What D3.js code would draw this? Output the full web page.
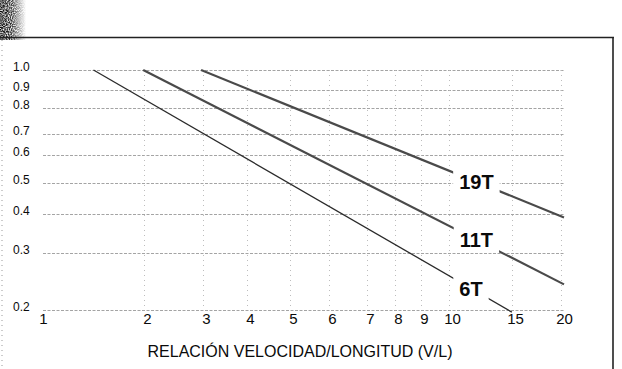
<!DOCTYPE html>
<html>
<head>
<meta charset="utf-8">
<script src="https://cdn.jsdelivr.net/npm/d3@7"></script>
<style>
  html, body { margin: 0; padding: 0; background: #fff; }
  svg { display: block; }
  text { font-family: "Liberation Sans", Arial, Helvetica, sans-serif; fill: #0a0a0a; }
</style>
</head>
<body>
<svg id="chart" width="622" height="369"></svg>
<script>
// Axis ticks (the printed log grid is hand-spaced, so each tick keeps its own place)
const xTicks = [1, 2, 3, 4, 5, 6, 7, 8, 9, 10, 15, 20];
const yTicks = [1.0, 0.9, 0.8, 0.7, 0.6, 0.5, 0.4, 0.3, 0.2];
const xTickPos = [43, 147, 206, 250, 293, 332, 370, 398, 424, 452, 515, 564];
const yTickPos = [70, 90, 108, 134, 155, 183, 214, 253, 310];

// Curves: straight runs on the log grid, from a start point to an end point
const seriesNames = ["6T", "11T", "19T"];
const seriesStart = [[1.4, 1.0], [1.95, 1.0], [2.9, 1.0]];
const seriesEnd = [[14.7, 0.197], [20, 0.24], [20, 0.39]];
const labelAtX = [11.3, 11.7, 11.7];

const axisTitle = "RELACIÓN VELOCIDAD/LONGITUD (V/L)";

const svg = d3.select("#chart");
const W = 622, H = 369;

const x = d3.scaleLog().domain(xTicks).range(xTickPos);
const y = d3.scaleLog().domain(yTicks).range(yTickPos);

// scanned-sheet texture in the upper left corner
const defs = svg.append("defs");
const f = defs.append("filter").attr("id", "grain").attr("x", 0).attr("y", 0).attr("width", 1).attr("height", 1);
f.append("feTurbulence").attr("type", "fractalNoise").attr("baseFrequency", 0.95).attr("numOctaves", 1).attr("seed", 3).attr("result", "n");
f.append("feColorMatrix").attr("in", "n").attr("type", "matrix")
  .attr("values", "0 0 0 0 0  0 0 0 0 0  0 0 0 0 0  0 0 0 -2.2 1.7").attr("result", "d");
f.append("feComposite").attr("in", "d").attr("in2", "SourceGraphic").attr("operator", "in");
const gr = defs.append("linearGradient").attr("id", "fade").attr("x1", 0).attr("x2", 1);
gr.append("stop").attr("offset", 0).attr("stop-color", "#000").attr("stop-opacity", 1);
gr.append("stop").attr("offset", 0.45).attr("stop-color", "#000").attr("stop-opacity", 0.8);
gr.append("stop").attr("offset", 1).attr("stop-color", "#000").attr("stop-opacity", 0);
svg.append("rect").attr("x", 0).attr("y", 0).attr("width", 26).attr("height", 40)
  .attr("fill", "url(#fade)").attr("filter", "url(#grain)");

// frame
svg.append("line").attr("x1", 0).attr("x2", 614).attr("y1", 37.5).attr("y2", 37.5)
  .attr("stroke", "#222").attr("stroke-width", 1.6);
svg.append("line").attr("x1", 613).attr("x2", 613).attr("y1", 37).attr("y2", H)
  .attr("stroke", "#222").attr("stroke-width", 1.6);
svg.append("line").attr("x1", 2).attr("x2", 2).attr("y1", 40).attr("y2", H)
  .attr("stroke", "#999").attr("stroke-width", 1).attr("stroke-dasharray", "1,4");

// grid
const grid = svg.append("g");
grid.selectAll("line.h").data(yTicks).join("line").attr("class", "h")
  .attr("x1", x(xTicks[0])).attr("x2", x(xTicks[xTicks.length - 1]) + 1)
  .attr("y1", d => y(d) + 0.5).attr("y2", d => y(d) + 0.5)
  .attr("stroke", "#9a9a9a").attr("stroke-width", 0.9).attr("stroke-dasharray", "3,1.5");
grid.selectAll("line.v").data(xTicks.slice(1)).join("line").attr("class", "v")
  .attr("x1", d => x(d) - 2.5).attr("x2", d => x(d) - 2.5)
  .attr("y1", y(1.0)).attr("y2", y(0.2))
  .attr("stroke", "#b5b5b5").attr("stroke-width", 0.9).attr("stroke-dasharray", "1,4");

// y labels
const gy = svg.append("g").attr("transform", "translate(13,-3)")
  .call(d3.axisRight(y).tickValues(yTicks).tickSize(0).tickPadding(0).tickFormat(d3.format(".1f")));
gy.select(".domain").remove();
gy.selectAll("text").attr("font-size", "12px").style("font-family", null);

// x labels
const gx = svg.append("g").attr("transform", "translate(0,313)")
  .call(d3.axisBottom(x).tickValues(xTicks).tickSize(0).tickPadding(0).tickFormat(d3.format("d")));
gx.select(".domain").remove();
gx.selectAll("text").attr("font-size", "15px").style("font-family", null);

// curves
const lineGen = d3.line().x(d => x(d[0])).y(d => y(d[1]));
const widths = [1.3, 2.2, 2.2];
const colors = ["#2a2a2a", "#4a4a4a", "#4a4a4a"];
const curves = seriesNames.map((n, i) => ({ name: n, pts: [seriesStart[i], seriesEnd[i]], i }));
svg.append("g").selectAll("path").data(curves).join("path")
  .attr("d", d => lineGen(d.pts))
  .attr("fill", "none")
  .attr("stroke", d => colors[d.i])
  .attr("stroke-width", d => widths[d.i]);

// curve labels, each sitting in a gap cut out of its curve
const lab = svg.append("g").selectAll("g").data(curves).join("g")
  .attr("transform", d => {
    const ax = x(d.pts[0][0]), ay = y(d.pts[0][1]);
    const bx = x(d.pts[1][0]), by = y(d.pts[1][1]);
    const px = x(labelAtX[d.i]);
    const py = ay + (by - ay) * (px - ax) / (bx - ax);
    return `translate(${px},${py})`;
  });
lab.append("text").text(d => d.name)
  .attr("text-anchor", "middle").attr("dy", "0.36em")
  .attr("font-size", "20px").attr("font-weight", "bold");
lab.each(function () {
  const g = d3.select(this);
  const b = g.select("text").node().getBBox();
  g.insert("rect", "text").attr("x", b.x - 6).attr("y", b.y - 2)
    .attr("width", b.width + 12).attr("height", b.height + 4).attr("fill", "#fff");
});

// axis title
svg.append("text").attr("x", 300).attr("y", 357).attr("text-anchor", "middle")
  .attr("font-size", "16px").text(axisTitle);
</script>
</body>
</html>
